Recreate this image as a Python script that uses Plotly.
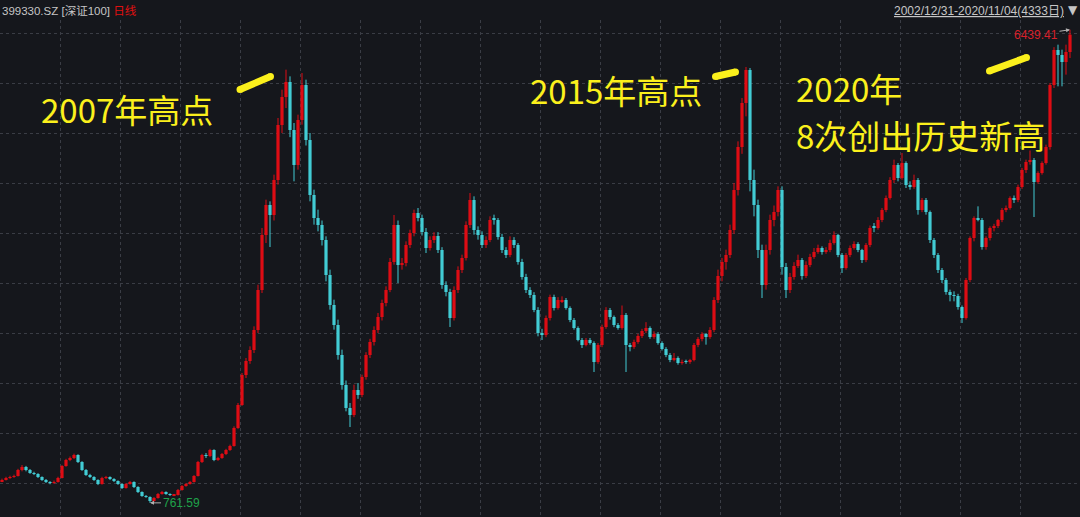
import plotly.graph_objects as go

# ---- data: 深证100 (399330.SZ), ~16-trading-day candles, 2002/12/31 - 2020/11/04 ----
close = [
    1036, 1060, 1072, 1084, 1156, 1192, 1156, 1120, 1108, 1072,
    1036, 1012, 1000, 1012, 1060, 1204, 1276, 1300, 1336, 1252,
    1156, 1096, 1072, 1036, 988, 1060, 1072, 1048, 1024, 988,
    940, 988, 1012, 952, 892, 844, 832, 784, 820, 868,
    892, 868, 856, 856, 916, 964, 988, 1012, 1084, 1252,
    1336, 1324, 1396, 1276, 1300, 1348, 1396, 1444, 1660, 1936,
    2296, 2464, 2596, 2836, 3316, 3976, 4336, 4216, 4636, 5296,
    5632, 5812, 5236, 4816, 5356, 5776, 5116, 4456, 4180, 4096,
    3916, 3496, 3136, 2896, 2536, 2176, 1900, 1816, 2116, 2056,
    2272, 2536, 2692, 2836, 2992, 3160, 3316, 3652, 4096, 3616,
    3640, 3856, 4000, 4240, 4180, 4012, 3820, 3916, 3964, 3796,
    3376, 3292, 2980, 3316, 3556, 3700, 4096, 4396, 4036, 3976,
    3856, 3916, 4156, 4156, 3952, 3796, 3736, 3916, 3856, 3652,
    3472, 3316, 3256, 3076, 2800, 2776, 2980, 3232, 3100, 3196,
    3196, 3100, 2956, 2860, 2716, 2656, 2716, 2680, 2452, 2656,
    2872, 3076, 2992, 2896, 2860, 3016, 2656, 2632, 2692, 2764,
    2824, 2860, 2752, 2788, 2680, 2608, 2536, 2476, 2500, 2440,
    2452, 2452, 2476, 2656, 2728, 2788, 2752, 2836, 3196, 3484,
    3652, 3736, 4036, 4516, 5032, 5560, 5956, 4636, 4336, 3796,
    3376, 3796, 4156, 4252, 4516, 3592, 3316, 3472, 3604, 3676,
    3484, 3616, 3712, 3772, 3820, 3772, 3796, 3880, 3976, 3736,
    3580, 3736, 3820, 3868, 3796, 3676, 3856, 4060, 4060, 4156,
    4276, 4420, 4636, 4816, 4660, 4840, 4576, 4552, 4636, 4276,
    4396, 4252, 3916, 3736, 3556, 3436, 3292, 3256, 3244, 3112,
    2980, 3436, 3940, 4180, 4156, 3832, 3940, 4060, 4084, 4156,
    4276, 4300, 4420, 4396, 4552, 4756, 4852, 4876, 4612, 4720,
    4840, 5032, 5776, 6196, 6136, 6052, 6172, 6380,
]

open_ = [
    1020, 1036, 1060, 1072, 1084, 1156, 1192, 1156, 1120, 1108,
    1072, 1036, 1012, 1000, 1012, 1060, 1204, 1276, 1300, 1336,
    1252, 1156, 1096, 1072, 1036, 988, 1060, 1072, 1048, 1024,
    988, 940, 988, 1012, 952, 892, 844, 832, 784, 820,
    868, 892, 868, 850, 856, 916, 964, 988, 1012, 1084,
    1252, 1336, 1324, 1396, 1276, 1300, 1348, 1396, 1444, 1660,
    1936, 2296, 2464, 2596, 2836, 3316, 3976, 4336, 4216, 4636,
    5296, 5632, 5812, 5236, 4816, 5356, 5776, 5116, 4456, 4180,
    4096, 3916, 3496, 3136, 2896, 2536, 2176, 1900, 1816, 2116,
    2056, 2272, 2536, 2692, 2836, 2992, 3160, 3316, 3652, 4096,
    3616, 3640, 3856, 4000, 4240, 4180, 4012, 3820, 3916, 3964,
    3796, 3376, 3292, 2980, 3316, 3556, 3700, 4096, 4396, 4036,
    3976, 3856, 3916, 4180, 4156, 3952, 3796, 3736, 3916, 3856,
    3652, 3472, 3316, 3256, 3076, 2800, 2776, 2980, 3232, 3100,
    3180, 3196, 3100, 2956, 2860, 2716, 2656, 2716, 2680, 2452,
    2656, 2872, 3076, 2992, 2896, 2860, 3016, 2656, 2632, 2692,
    2764, 2824, 2860, 2752, 2788, 2680, 2608, 2536, 2476, 2500,
    2440, 2460, 2452, 2476, 2656, 2728, 2788, 2752, 2836, 3196,
    3484, 3652, 3736, 4036, 4516, 5032, 5560, 5956, 4636, 4336,
    3796, 3376, 3796, 4156, 4252, 4516, 3592, 3316, 3472, 3604,
    3676, 3484, 3616, 3712, 3772, 3820, 3772, 3796, 3880, 3976,
    3736, 3580, 3736, 3820, 3868, 3796, 3676, 3856, 4080, 4060,
    4156, 4276, 4420, 4636, 4816, 4660, 4840, 4576, 4552, 4636,
    4276, 4396, 4252, 3916, 3736, 3556, 3436, 3292, 3256, 3244,
    3112, 2980, 3436, 3940, 4180, 4156, 3832, 3940, 4060, 4084,
    4156, 4276, 4300, 4420, 4396, 4552, 4756, 4852, 4876, 4612,
    4720, 4840, 5032, 5776, 6196, 6136, 6052, 6172,
]

high = [
    1052, 1075, 1088, 1100, 1170, 1215, 1205, 1168, 1135, 1118,
    1080, 1048, 1022, 1030, 1075, 1215, 1290, 1318, 1352, 1345,
    1262, 1168, 1110, 1082, 1045, 1075, 1085, 1080, 1058, 1032,
    995, 1000, 1025, 1020, 962, 900, 856, 840, 832, 880,
    905, 900, 876, 868, 928, 975, 1000, 1025, 1095, 1265,
    1350, 1360, 1410, 1405, 1315, 1360, 1410, 1460, 1680, 1960,
    2320, 2500, 2640, 2880, 3380, 4060, 4400, 4380, 4700, 5380,
    5720, 5960, 5880, 5320, 5420, 5920, 5840, 5200, 4520, 4280,
    4150, 3960, 3560, 3200, 2960, 2600, 2230, 1960, 2180, 2200,
    2300, 2570, 2730, 2880, 3040, 3200, 3360, 3700, 4216, 4150,
    3700, 3900, 4040, 4280, 4300, 4220, 4060, 3960, 4010, 4010,
    3830, 3420, 3330, 3360, 3600, 3740, 4140, 4480, 4440, 4080,
    4020, 3960, 4200, 4220, 4180, 3990, 3830, 3960, 3950, 3880,
    3690, 3510, 3350, 3290, 3110, 2850, 3010, 3260, 3260, 3230,
    3240, 3220, 3120, 2980, 2880, 2740, 2740, 2740, 2700, 2680,
    2900, 3110, 3100, 3010, 2920, 3130, 3040, 2680, 2720, 2790,
    2850, 2930, 2880, 2820, 2810, 2700, 2630, 2560, 2560, 2520,
    2480, 2480, 2490, 2680, 2750, 2810, 2800, 2870, 3230, 3560,
    3700, 3800, 4100, 4600, 5100, 5620, 5992, 5980, 4760, 4400,
    3860, 3860, 4220, 4330, 4560, 4560, 3640, 3520, 3650, 3740,
    3700, 3660, 3750, 3820, 3860, 3840, 3830, 3920, 4020, 3990,
    3760, 3760, 3850, 3900, 3890, 3810, 3880, 4090, 4120, 4190,
    4300, 4450, 4670, 4880, 4840, 4960, 4860, 4620, 4700, 4660,
    4420, 4420, 4270, 3940, 3760, 3580, 3460, 3320, 3300, 3270,
    3130, 3460, 3960, 4200, 4320, 4180, 3960, 4080, 4110, 4170,
    4300, 4330, 4440, 4450, 4580, 4780, 4880, 4990, 4900, 4740,
    4860, 5060, 5800, 6230, 6260, 6200, 6260, 6439.41,
]

low = [
    1010, 1030, 1050, 1062, 1078, 1140, 1140, 1110, 1095, 1060,
    1025, 1000, 985, 990, 1005, 1055, 1195, 1262, 1288, 1240,
    1145, 1085, 1060, 1025, 975, 980, 1048, 1035, 1012, 978,
    928, 932, 980, 940, 880, 835, 822, 761.59, 775, 812,
    860, 858, 845, 842, 850, 908, 955, 980, 1005, 1078,
    1240, 1300, 1310, 1262, 1265, 1290, 1335, 1385, 1436, 1650,
    1925, 2260, 2430, 2560, 2800, 3280, 3880, 3832, 4150, 4580,
    5200, 5500, 5150, 4620, 4760, 5300, 5050, 4380, 4100, 4020,
    3850, 3420, 3080, 2840, 2480, 2120, 1860, 1672, 1790, 2010,
    2030, 2240, 2500, 2650, 2800, 2950, 3120, 3290, 3620, 3400,
    3560, 3600, 3820, 3960, 4140, 3970, 3760, 3790, 3880, 3760,
    3330, 3240, 2872, 2950, 3280, 3520, 3670, 4060, 3980, 3920,
    3820, 3820, 3890, 4100, 3920, 3760, 3700, 3710, 3820, 3620,
    3440, 3280, 3220, 3050, 2760, 2716, 2750, 2950, 3070, 3080,
    3160, 3080, 2930, 2840, 2700, 2620, 2640, 2660, 2332, 2430,
    2630, 2850, 2960, 2870, 2840, 2840, 2332, 2580, 2610, 2670,
    2740, 2800, 2730, 2730, 2660, 2590, 2510, 2450, 2460, 2420,
    2420, 2430, 2430, 2460, 2630, 2700, 2660, 2730, 2810, 3160,
    3420, 3560, 3700, 3990, 4450, 4950, 5400, 4500, 4200, 3700,
    3220, 3320, 3740, 4080, 4200, 3500, 3220, 3280, 3440, 3580,
    3440, 3460, 3590, 3690, 3750, 3740, 3750, 3770, 3860, 3710,
    3520, 3560, 3710, 3800, 3770, 3640, 3650, 3830, 4010, 4040,
    4130, 4250, 4400, 4600, 4620, 4640, 4540, 4520, 4530, 4220,
    4250, 4220, 3880, 3700, 3520, 3400, 3260, 3180, 3180, 3080,
    2920, 2960, 3410, 3900, 4140, 3800, 3800, 3910, 4020, 4060,
    4130, 4250, 4280, 4360, 4370, 4530, 4720, 4820, 4192, 4590,
    4700, 4820, 5000, 5740, 5760, 5760, 5900, 6100,
]

grid_prices = [1000, 1600, 2200, 2800, 3400, 4000, 4600, 5200, 5800, 6400]
low_label = "761.59"
high_label = "6439.41"
title_left = "399330.SZ [深证100] "
title_period = "日线"
title_right = "2002/12/31-2020/11/04(4333日)"
note_2007 = "2007年高点"
note_2015 = "2015年高点"
note_2020_a = "2020年"
note_2020_b = "8次创出历史新高"

# ---- styling ----
BG = "#15171c"
RED = "#de0c14"
CYAN = "#42ccd4"
YEL = "#fbf01c"
GRID = "#3a3d45"
W, H = 1080, 517
TOP = 20
BODY_W = 0.8

n = len(close)
idx = list(range(n))
i_low = low.index(min(low))
i_high = high.index(max(high))

fig = go.Figure()

# price units per pixel (1000 at y=483 px, 6400 at y=33 px)
ppp = (grid_prices[-1] - grid_prices[0]) / 450.0

for up, col in ((True, RED), (False, CYAN)):
    ks = [k for k in idx if (close[k] >= open_[k]) == up]
    wx, wy = [], []
    for k in ks:
        wx += [k, k, None]
        wy += [low[k], high[k], None]
    fig.add_trace(go.Scatter(x=wx, y=wy, mode="lines", line=dict(color=col, width=1),
                             hoverinfo="skip", showlegend=False))
    fig.add_trace(go.Bar(
        x=ks,
        base=[min(open_[k], close[k]) for k in ks],
        y=[max(abs(close[k] - open_[k]), ppp) for k in ks],
        width=BODY_W, marker=dict(color=col, line=dict(width=0)),
        hoverinfo="skip", showlegend=False,
    ))

def px(x):
    return x / W

def py(y):
    return (H - y) / (H - TOP)

y_top = grid_prices[0] + (483 - TOP) * ppp
y_bot = grid_prices[0] - (H - 483) * ppp

shapes = []
def stroke(x0, y0, x1, y1, w=7):
    shapes.append(dict(type="line", xref="paper", yref="paper",
                       x0=px(x0), y0=py(y0), x1=px(x1), y1=py(y1),
                       line=dict(color=YEL, width=w), layer="above"))
    r = w / 2.0
    for (cx, cy) in ((x0, y0), (x1, y1)):
        shapes.append(dict(type="circle", xref="paper", yref="paper",
                           x0=px(cx - r), x1=px(cx + r), y0=py(cy + r), y1=py(cy - r),
                           fillcolor=YEL, line=dict(width=0), layer="above"))

stroke(240, 89.5, 270.5, 76.5)
stroke(715.5, 76.5, 735.5, 72)
stroke(989.5, 71, 1026.5, 57.5)

big = dict(family="Noto Sans CJK SC, Microsoft YaHei, sans-serif", size=33, color=YEL)
sfam = "Liberation Sans, Noto Sans CJK SC, sans-serif"

annotations = [
    dict(xref="paper", yref="paper", x=px(40), y=py(109), xanchor="left", yanchor="middle",
         text=note_2007, showarrow=False, font=big, borderpad=0),
    dict(xref="paper", yref="paper", x=px(529), y=py(90), xanchor="left", yanchor="middle",
         text=note_2015, showarrow=False, font=big, borderpad=0),
    dict(xref="paper", yref="paper", x=px(795), y=py(88.5), xanchor="left", yanchor="middle",
         text=note_2020_a, showarrow=False, font=big, borderpad=0),
    dict(xref="paper", yref="paper", x=px(795), y=py(135), xanchor="left", yanchor="middle",
         text=note_2020_b, showarrow=False, font=big, borderpad=0),
    dict(xref="paper", yref="paper", x=0.0, y=py(10), xanchor="left", yanchor="middle",
         text=title_left + "<span style='color:#e01010'>" + title_period + "</span>",
         showarrow=False, font=dict(family=sfam, size=11.5, color="#c6c6c6")),
    dict(xref="paper", yref="paper", x=px(1066), y=py(11), xanchor="right", yanchor="middle",
         text=title_right, showarrow=False,
         font=dict(family=sfam, size=12, color="#c6c6c6", lineposition="under")),
    dict(xref="paper", yref="paper", x=px(1073), y=py(10), xanchor="center", yanchor="middle",
         text="▼", showarrow=False, font=dict(family="DejaVu Sans", size=12, color="#c6c6c6")),
    dict(x=i_low, y=low[i_low], xref="x", yref="y", text=low_label, showarrow=True,
         ax=31, ay=0, arrowhead=2, arrowsize=0.8, arrowwidth=1, arrowcolor="#b0b0b0",
         font=dict(family=sfam, size=12, color="#1fa34a")),
    dict(x=i_high, y=high[i_high], xref="x", yref="y", text=high_label, showarrow=True,
         ax=-34, ay=5, arrowhead=2, arrowsize=0.8, arrowwidth=1, arrowcolor="#b0b0b0",
         font=dict(family=sfam, size=12, color="#d9202b")),
]

fig.update_layout(
    width=W, height=H,
    margin=dict(l=0, r=0, t=TOP, b=0),
    paper_bgcolor=BG, plot_bgcolor=BG,
    showlegend=False, hovermode=False, barmode="overlay",
    shapes=shapes, annotations=annotations,
    xaxis=dict(range=[-0.5, n + 1.5],
               tickvals=[(60 * m - 2) / 4.0 for m in range(1, 18)],
               showticklabels=False, ticks="", showgrid=True, gridcolor=GRID,
               griddash="dot", gridwidth=1, zeroline=False, showline=False),
    yaxis=dict(range=[y_bot, y_top], tickvals=grid_prices, showticklabels=False, ticks="",
               showgrid=True, gridcolor=GRID, griddash="dot", gridwidth=1,
               zeroline=False, showline=True, linecolor="#2c2f36", linewidth=1),
)

fig.write_html("out.html", config={"displayModeBar": False},
               post_script="document.body.style.margin='0px';document.body.style.overflow='hidden';")
